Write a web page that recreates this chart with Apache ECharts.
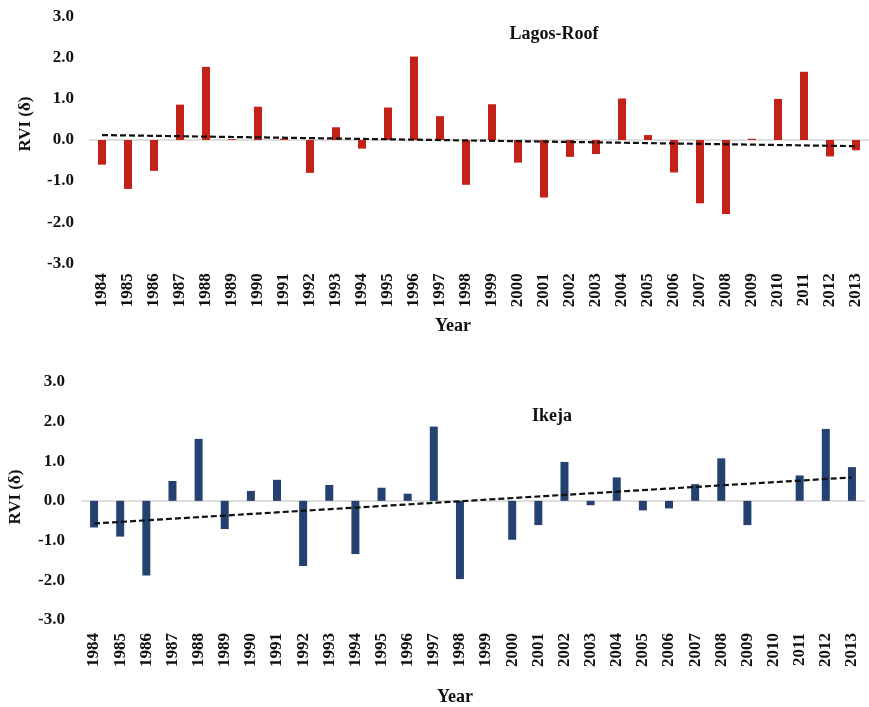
<!DOCTYPE html>
<html>
<head>
<meta charset="utf-8">
<script src="https://cdn.jsdelivr.net/npm/echarts@6/dist/echarts.min.js"></script>
<style>html,body{margin:0;padding:0;background:#fff}#c{width:869px;height:707px}</style>
</head>
<body>
<div id="c"></div>
<script>
const years = ['1984','1985','1986','1987','1988','1989','1990','1991','1992','1993','1994','1995','1996','1997','1998','1999','2000','2001','2002','2003','2004','2005','2006','2007','2008','2009','2010','2011','2012','2013'];
const lagosRoof = [-0.60,-1.19,-0.75,0.86,1.78,0.02,0.81,0.03,-0.80,0.31,-0.21,0.79,2.03,0.58,-1.09,0.87,-0.55,-1.40,-0.41,-0.34,1.01,0.12,-0.79,-1.54,-1.80,0.03,1.00,1.66,-0.40,-0.25];
const ikeja = [-0.67,-0.90,-1.88,0.50,1.56,-0.71,0.25,0.53,-1.64,0.40,-1.34,0.33,0.18,1.87,-1.97,0,-0.98,-0.61,0.98,-0.11,0.59,-0.24,-0.19,0.42,1.07,-0.61,0,0.64,1.81,0.85];
const lagosTrend = [0.12, -0.15];   // trend line values at 1984 and 2013
const ikejaTrend = [-0.57, 0.59];
const yTicks = [-3, -2, -1, 0, 1, 2, 3];

const SERIF = '"Liberation Serif","Times New Roman",serif';
function trendData(ends){
  const d = years.map(() => null);
  d[0] = ends[0]; d[d.length-1] = ends[1];
  return d;
}
function xAx(idx, margin){
  return {type:'category', gridIndex:idx, data:years,
    axisLine:{show:false}, axisTick:{show:false},
    axisLabel:{rotate:90, margin:margin, color:'#111', fontFamily:SERIF, fontWeight:'bold', fontSize:17, interval:0}};
}
function yAx(idx, margin){
  return {type:'value', gridIndex:idx, min:yTicks[0], max:yTicks[yTicks.length-1], interval:1,
    axisLine:{show:false}, axisTick:{show:false}, splitLine:{show:false},
    axisLabel:{margin:margin, color:'#111', fontFamily:SERIF, fontWeight:'bold', fontSize:17, formatter:v=>v.toFixed(1)}};
}
function zeroLine(idx){
  return {type:'line', xAxisIndex:idx, yAxisIndex:idx, data:[], z:1, silent:true,
    markLine:{silent:true, symbol:'none', label:{show:false}, z:1,
      lineStyle:{color:'#d3d3d3', width:1.5, type:'solid'}, data:[{yAxis:0}]}};
}
function bars(idx, data, color){
  return {type:'bar', xAxisIndex:idx, yAxisIndex:idx, data:data, barWidth:8,
    itemStyle:{color:color}, z:2};
}
function trend(idx, ends){
  return {type:'line', xAxisIndex:idx, yAxisIndex:idx, data:trendData(ends), connectNulls:true,
    symbol:'none', z:3, lineStyle:{color:'#111', width:2.2, type:[6,3]}};
}
const txt = (x,y,t,size,rot) => ({type:'text', x:x, y:y, rotation:rot||0,
  style:{text:t, fill:'#111', font:'bold '+size+'px '+SERIF, textAlign:'center', textVerticalAlign:'middle'}});

const chart = echarts.init(document.getElementById('c'));
chart.setOption({
  animation:false,
  grid:[{left:89, right:-5, top:16.7, height:246.6},{left:81, right:4, top:381.7, height:238.3}],
  xAxis:[xAx(0,10), xAx(1,13)],
  yAxis:[yAx(0,15), yAx(1,16)],
  series:[zeroLine(0), bars(0, lagosRoof, '#c42118'), trend(0, lagosTrend),
          zeroLine(1), bars(1, ikeja, '#24416f'), trend(1, ikejaTrend)],
  graphic:[
    txt(554,34,'Lagos-Roof',18), txt(552,416,'Ikeja',18),
    txt(453,326,'Year',18), txt(455,697,'Year',18),
    txt(25.5,124,'RVI (δ)',17,Math.PI/2), txt(16,497,'RVI (δ)',17,Math.PI/2)
  ]
});
</script>
</body>
</html>
